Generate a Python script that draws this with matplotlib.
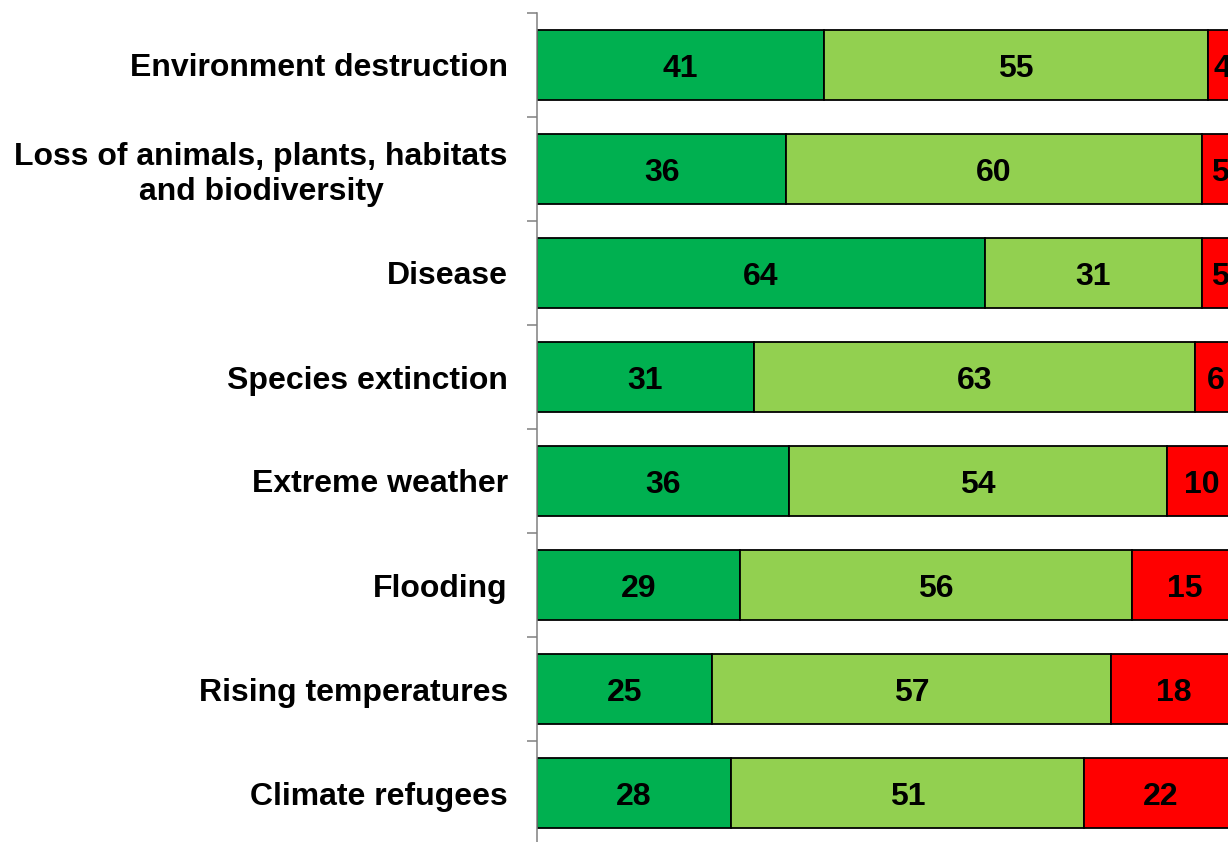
import matplotlib.pyplot as plt
import numpy as np

categories = ['Environment destruction',
              'Loss of animals, plants, habitats\nand biodiversity',
              'Disease',
              'Species extinction',
              'Extreme weather',
              'Flooding',
              'Rising temperatures',
              'Climate refugees']

# bar widths (percent)
dark = [41.0, 35.6, 64.0, 31.0, 36.0, 29.0, 25.0, 27.7]
light = [54.9, 59.4, 31.0, 63.0, 54.0, 56.0, 57.0, 50.4]
red = [4.1, 5.0, 5.0, 6.0, 10.0, 15.0, 18.0, 21.9]

# numbers printed in the bars
dark_lbl = [41, 36, 64, 31, 36, 29, 25, 28]
light_lbl = [55, 60, 31, 63, 54, 56, 57, 51]
red_lbl = [4, 5, 5, 6, 10, 15, 18, 22]

plt.rcParams['font.family'] = 'Liberation Sans'
plt.rcParams['font.weight'] = 'bold'

fig = plt.figure(figsize=(12.28, 8.42), dpi=100)
W, H = 1228, 842
ax = fig.add_axes([537/W, (H-845)/H, 700/W, 832/H])

y = np.arange(len(categories))
dark = np.array(dark); light = np.array(light); red = np.array(red)
cols = ['#00B050', '#92D050', '#FF0000']
lefts = [np.zeros(len(y)), dark, dark + light]
for vals, left, lbls, c in zip([dark, light, red], lefts,
                               [dark_lbl, light_lbl, red_lbl], cols):
    ax.barh(y, vals, left=left, height=0.673, color=c,
            edgecolor='black', linewidth=1.3)
    for yi, v, l, t in zip(y, vals, left, lbls):
        ax.text(l + v/2, yi + 0.04, str(t), ha='center', va='center',
                fontsize=23, fontweight='bold', color='black')

ax.set_xlim(0, 100)
ax.set_ylim(len(y) - 0.5, -0.5)
ax.set_yticks(y)
ax.set_yticklabels(categories, fontsize=23, fontweight='bold')
ax.set_yticks(np.arange(len(y) + 1) - 0.5, minor=True)
ax.tick_params(axis='y', which='major', length=0, pad=21)
ax.tick_params(axis='y', which='minor', length=7.5, width=1.1, color='#808080')
for lbl in ax.get_yticklabels():
    lbl.set_multialignment('center')
ax.set_xticks([])
for s in ['top', 'right', 'bottom']:
    ax.spines[s].set_visible(False)
ax.spines['left'].set_color('#808080')
ax.spines['left'].set_linewidth(1.1)

fig.savefig('out.png', dpi=100)
